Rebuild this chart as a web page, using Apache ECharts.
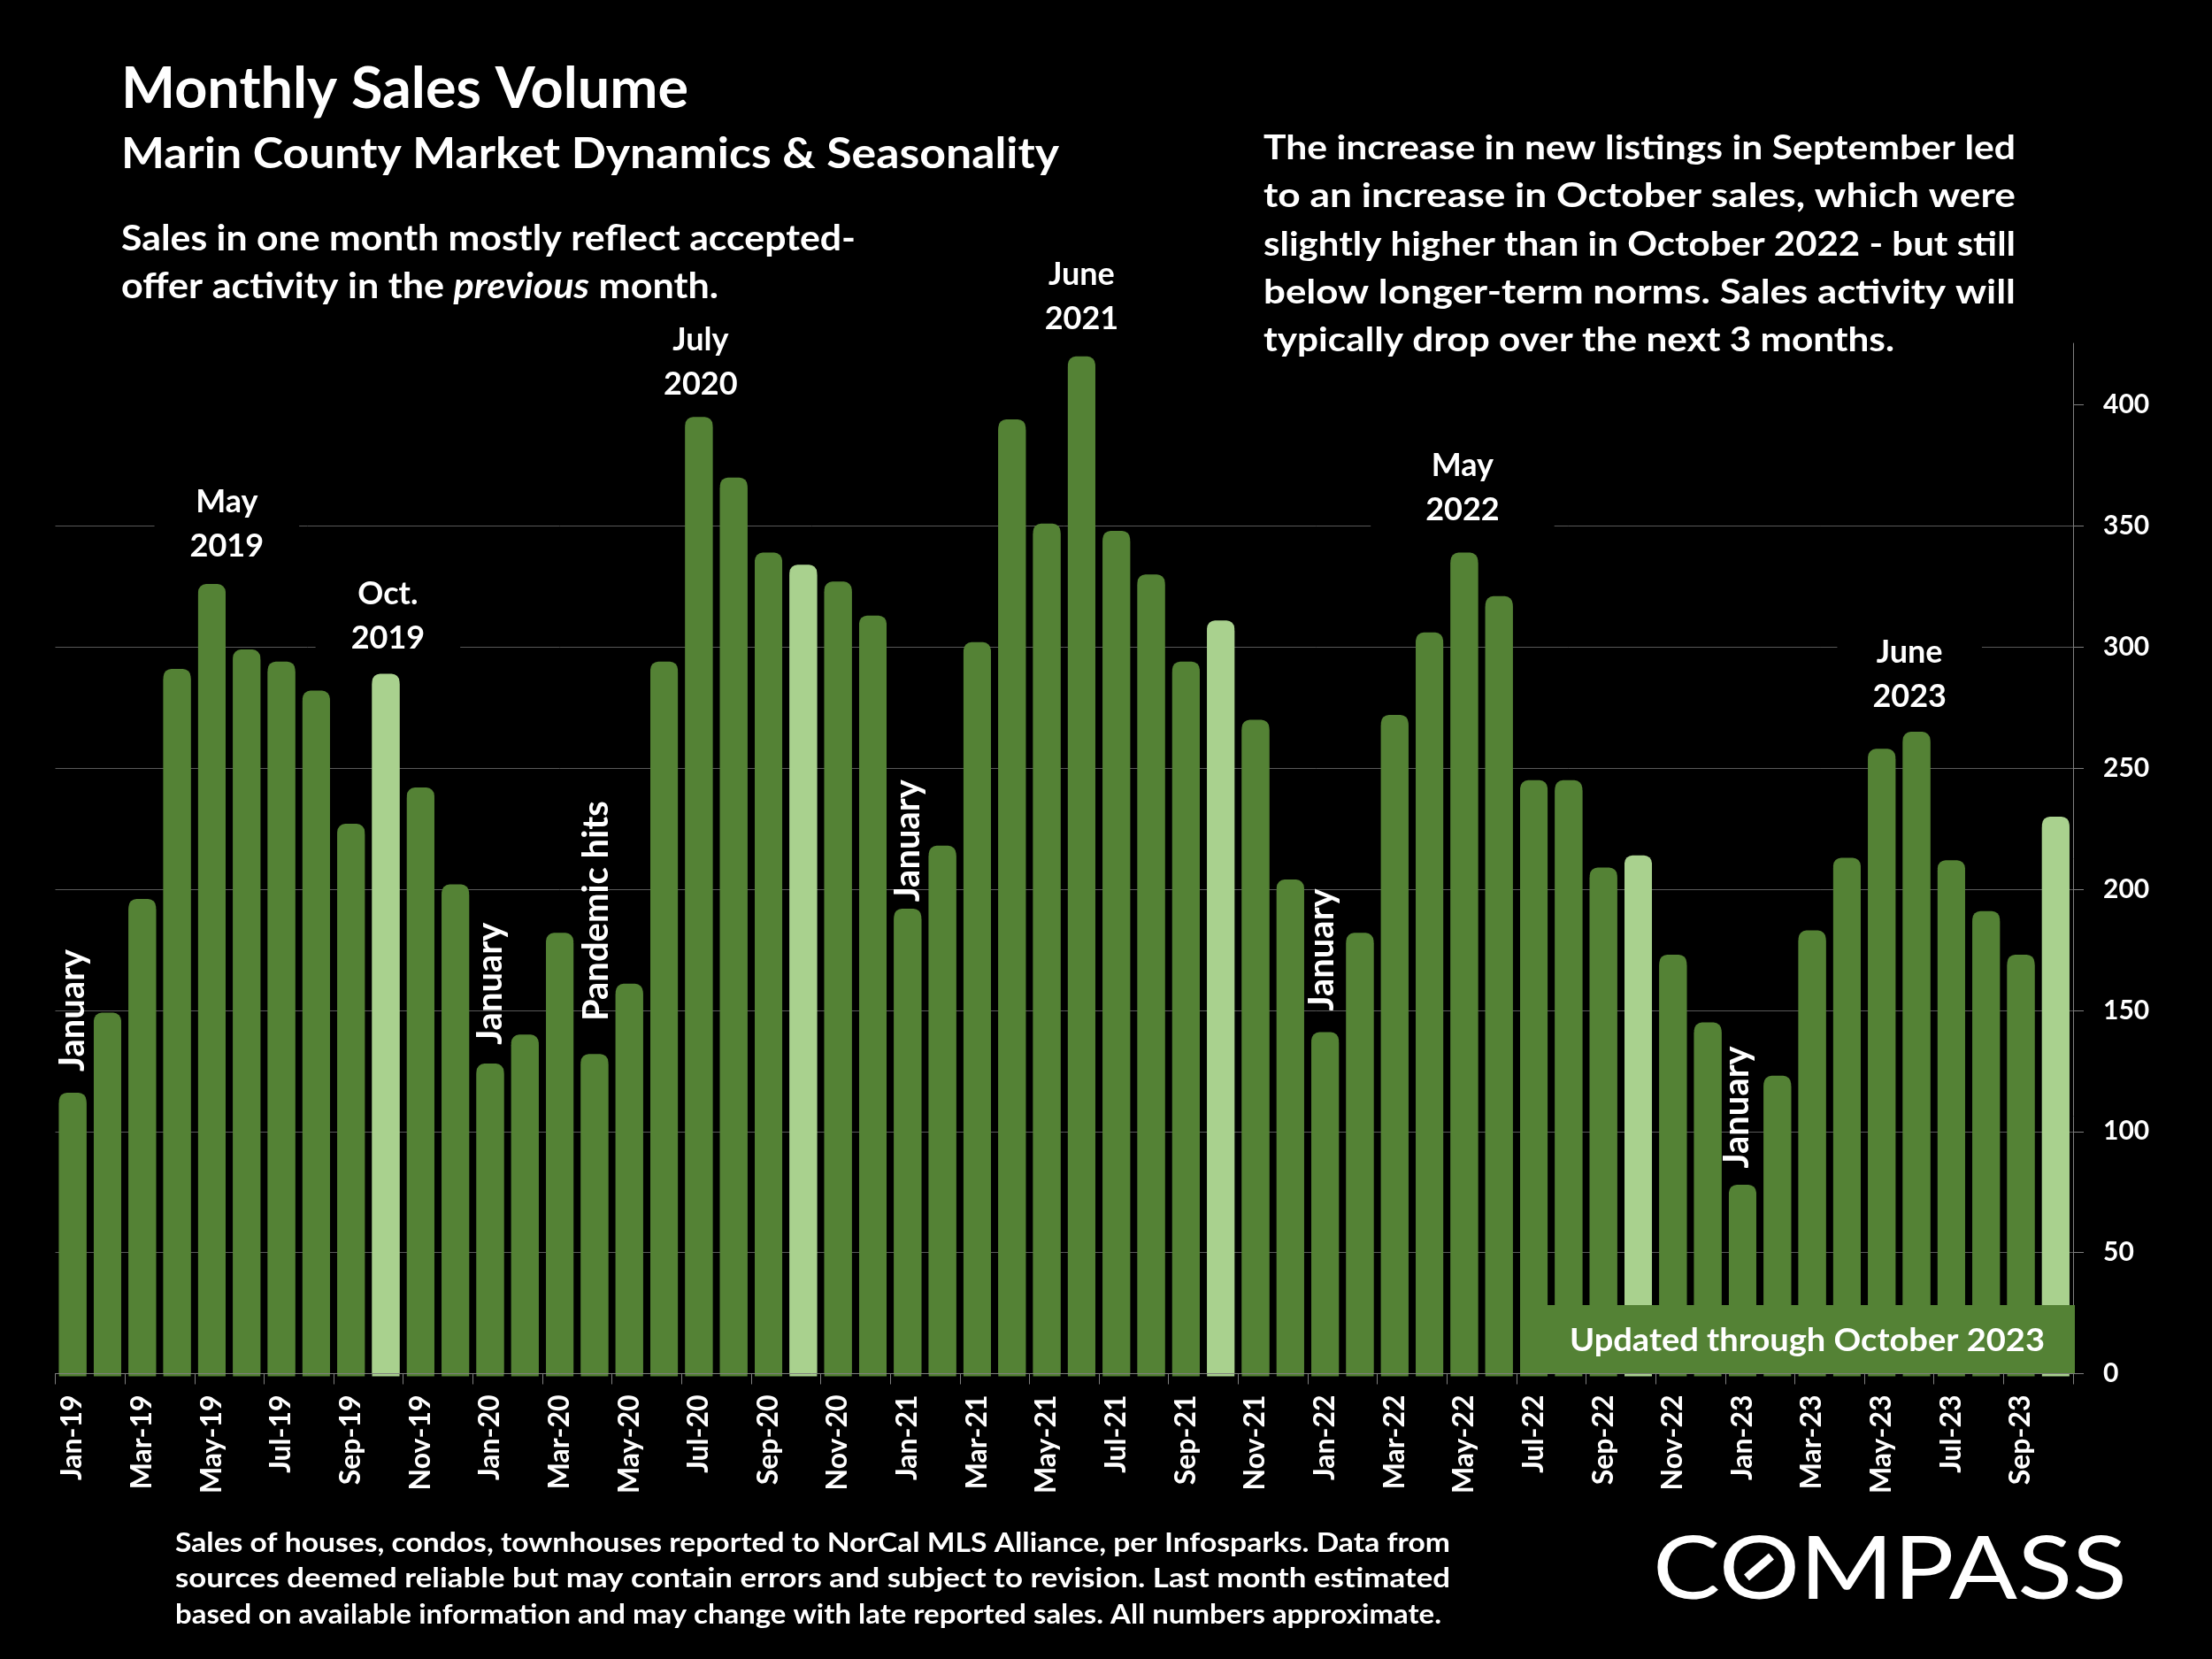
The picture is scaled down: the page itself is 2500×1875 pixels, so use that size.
<!DOCTYPE html>
<html><head><meta charset="utf-8">
<style>html,body{margin:0;padding:0;background:#000}#c{width:2500px;height:1875px}</style>
<script src="https://cdn.jsdelivr.net/npm/echarts@6/dist/echarts.min.js"></script>
</head><body><div id="c"></div>
<script>
const categories=["Jan-19","Feb-19","Mar-19","Apr-19","May-19","Jun-19","Jul-19","Aug-19","Sep-19","Oct-19","Nov-19","Dec-19",
"Jan-20","Feb-20","Mar-20","Apr-20","May-20","Jun-20","Jul-20","Aug-20","Sep-20","Oct-20","Nov-20","Dec-20",
"Jan-21","Feb-21","Mar-21","Apr-21","May-21","Jun-21","Jul-21","Aug-21","Sep-21","Oct-21","Nov-21","Dec-21",
"Jan-22","Feb-22","Mar-22","Apr-22","May-22","Jun-22","Jul-22","Aug-22","Sep-22","Oct-22","Nov-22","Dec-22",
"Jan-23","Feb-23","Mar-23","Apr-23","May-23","Jun-23","Jul-23","Aug-23","Sep-23","Oct-23"];
const sales=[116,149,196,291,326,299,294,282,227,289,242,202,
128,140,182,132,161,294,395,370,339,334,327,313,
192,218,302,394,351,420,348,330,294,311,270,204,
141,182,272,306,339,321,245,245,209,214,173,145,
78,123,183,213,258,265,212,191,173,230];
const highlighted=["Oct-19","Oct-20","Oct-21","Oct-22","Oct-23"];
const yTicks=[0,50,100,150,200,250,300,350,400];
const noteText=["January","January","January","January","January","Pandemic hits","May\n2019","Oct.\n2019","July\n2020","June\n2021","May\n2022","June\n2023"];
const noteMonth=[0.5,12.5,24.5,36.4,48.35,15.55,4.93,9.56,18.55,29.5,40.45,53.3];
const noteValue=[150,161,220,175,110,191,350.6,312.6,417.6,444.6,365.6,288.6];
const titleText="Monthly Sales Volume";
const subtitleText="Marin County Market Dynamics & Seasonality";
const leadLine="Sales in one month mostly reflect accepted-";
const sideLines=["The increase in new listings in September led","to an increase in October sales, which were","slightly higher than in October 2022 - but still","below longer-term norms. Sales activity will","typically drop over the next 3 months."];
const footLines=["Sales of houses, condos, townhouses reported to NorCal MLS Alliance, per Infosparks. Data from","sources deemed reliable but may contain errors and subject to revision. Last month estimated","based on available information and may change with late reported sales. All numbers approximate."];
const updatedText="Updated through October 2023";

const F='Lato', DARK='#548235', LIGHT='#A9D18E';
const mctx=document.createElement('canvas').getContext('2d');
function tw(t,size,weight,style){mctx.font=`${style||'normal'} ${weight||'bold'} ${size}px ${F}`;return mctx.measureText(t).width;}
function line(t,x,yMid,size,target){
  return {type:'text',x:x,y:yMid,z:100,scaleX:target?target/tw(t,size):1,
    style:{text:t,fill:'#fff',font:`bold ${size}px ${F}`,textAlign:'left',textVerticalAlign:'middle'}};
}
const graphics=[
  line(titleText,137,101,65,641),
  line(subtitleText,137,175,47,1060),
  line(leadLine,137,270,40,830),
  (function(){
    const a="offer activity in the ",b="previous",c=" month.";
    const w=tw(a,40)+tw(b,40,'bold','italic')+tw(c,40);
    return {type:'text',x:137,y:324,z:100,scaleX:675/w,style:{text:`{a|${a}}{b|${b}}{a|${c}}`,fill:'#fff',textVerticalAlign:'middle',textAlign:'left',
      rich:{a:{fill:'#fff',font:`bold 40px ${F}`},b:{fill:'#fff',font:`italic bold 40px ${F}`}}}};
  })()
];
[850,850,850,850,713].forEach((w,i)=>graphics.push(line(sideLines[i],1428,168+i*54.2,38,w)));
[1441,1441,1431].forEach((w,i)=>graphics.push(line(footLines[i],198,1744+i*40.8,30,w)));
graphics.push({type:'rect',z:90,shape:{x:1718,y:1475,width:627,height:77},style:{fill:DARK}});
graphics.push(line(updatedText,1774,1515,36,537));
(function(){
  const w=tw('COMPASS',98,'normal');
  graphics.push({type:'text',x:1868,y:1775,z:100,scaleX:536/w,style:{text:'COMPASS',fill:'#fff',font:`normal 98px ${F}`,textAlign:'left',textVerticalAlign:'middle'}});
  graphics.push({type:'line',z:101,shape:{x1:1974,y1:1783,x2:2002,y2:1759},style:{stroke:'#fff',lineWidth:9}});
})();

const notePad=[[0,0],[0,0],[0,0],[0,0],[0,0],[0,0],[0,40],[0,40],[0,34],[0,0],[0,62],[0,40]];
const chart=echarts.init(document.getElementById('c'),null,{renderer:'canvas',width:2500,height:1875});
chart.setOption({
  backgroundColor:'#000',animation:false,
  textStyle:{fontFamily:F},
  grid:{left:62.5,right:157,top:388,bottom:322.5,containLabel:false},
  xAxis:[{type:'category',data:categories,z:5,
      axisLine:{show:true,lineStyle:{color:'#7f7f7f',width:1}},
      axisTick:{show:true,interval:1,alignWithLabel:false,length:12,lineStyle:{color:'#7f7f7f',width:1}},
      axisLabel:{show:true,interval:1,rotate:90,margin:24,color:'#fff',fontFamily:F,fontWeight:'bold',fontSize:32},
      splitLine:{show:false}},
    {type:'value',min:0,max:58,show:false}],
  yAxis:{type:'value',position:'right',min:0,max:425.4,
      axisLine:{show:true,onZero:false,lineStyle:{color:'#7f7f7f',width:1}},
      axisTick:{show:true,length:12,customValues:yTicks,lineStyle:{color:'#7f7f7f',width:1}},
      axisLabel:{show:true,margin:34,customValues:yTicks,color:'#fff',fontFamily:F,fontWeight:'bold',fontSize:30},
      splitLine:{show:true,showMaxLine:false,lineStyle:{color:'#595959',width:1}}},
  series:[
   {type:'bar',xAxisIndex:0,barWidth:31,z:2,
    data:sales.map((v,i)=>{const c=highlighted.includes(categories[i])?LIGHT:DARK;
      return {value:v,itemStyle:{color:c,borderRadius:[9,9,0,0],shadowColor:c,shadowBlur:0,shadowOffsetY:3}};})},
   {type:'scatter',xAxisIndex:1,clip:false,silent:true,z:4,symbolSize:1,itemStyle:{color:'rgba(0,0,0,0)',opacity:1},
    data:noteText.map((t,i)=>{const up=!t.includes('\n');return {value:[noteMonth[i],noteValue[i]],
      label:{show:true,position:'inside',formatter:t,rotate:up?90:0,color:'#fff',fontFamily:F,fontWeight:'bold',fontSize:up?40:36,lineHeight:50,
        backgroundColor:notePad[i][1]?'#000':'transparent',padding:notePad[i]}};})}
  ],
  graphic:{elements:graphics}
});
</script></body></html>
